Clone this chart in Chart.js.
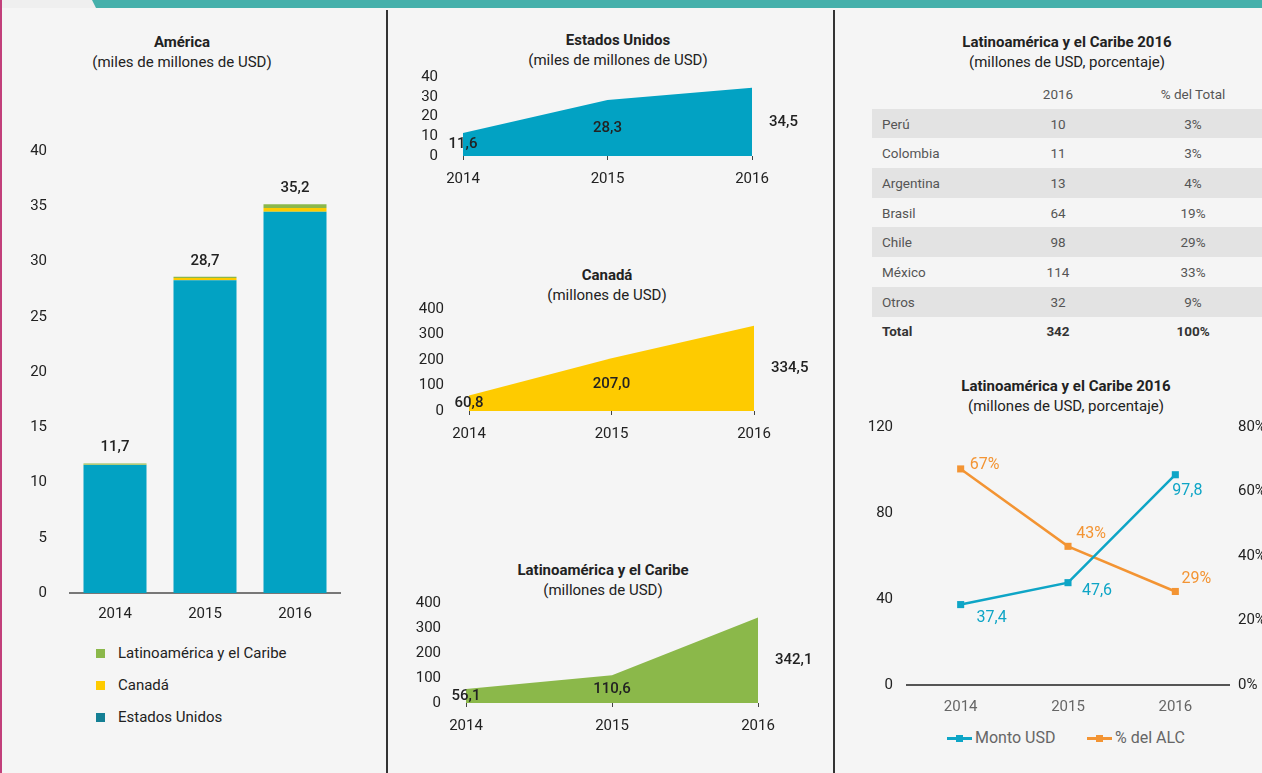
<!DOCTYPE html>
<html>
<head>
<meta charset="utf-8">
<script src="https://cdn.jsdelivr.net/npm/chart.js@4.4.1/dist/chart.umd.min.js"></script>
<style>
    body { margin: 0; width: 1262px; height: 773px; overflow: hidden; background: #f5f5f5; font-family: Roboto, 'Noto Sans', sans-serif; color: #222; position: relative; }
    .abs { position: absolute; }
    .title { position: absolute; width: 320px; text-align: center; font-size: 15px; line-height: 20px; color: #222; }
    .title b { font-weight: 700; }
    .legend-v div { position: absolute; left: 0; font-size: 15px; line-height: 18px; color: #222; white-space: nowrap; }
    .legend-v span { position: absolute; left: 0; top: 5px; width: 9px; height: 9px; }
    .legend-v em { font-style: normal; position: absolute; left: 22px; top: 0; }
    table { position: absolute; left: 872px; top: 79px; width: 408px; border-collapse: collapse; font-size: 13.5px; color: #555; }
    td, th { height: 29.7px; padding: 0; font-weight: 400; }
    td:first-child { padding-left: 10px; width: 128px; text-align: left; }
    td:nth-child(2), th:nth-child(2) { width: 96px; text-align: center; }
    td:nth-child(3), th:nth-child(3) { text-align: center; }
    tr.shade td { background: #e3e3e3; }
    tr.total td { font-weight: 700; color: #333; }
    .legend-h { position: absolute; top: 729px; font-size: 16px; color: #666; line-height: 18px; white-space: nowrap; }
    .legend-h i { position: absolute; left: 0; top: 8px; width: 25px; height: 3px; }
    .legend-h i::after { content: ''; position: absolute; left: 9px; top: -2px; width: 7px; height: 7px; background: inherit; }
    .legend-h em { font-style: normal; position: absolute; left: 28px; top: 0; }
</style>
</head>
<body>
<div class="abs" style="left:0;top:0;width:1262px;height:8px;background:#45b0ab"></div>
<div class="abs" style="left:0;top:0;width:96px;height:8px;background:#efefef;clip-path:polygon(0 0,92px 0,96px 100%,0 100%)"></div>
<div class="abs" style="left:0;top:0;width:2px;height:773px;background:#c2407b"></div>
<div class="abs" style="left:386px;top:10px;width:2px;height:763px;background:#333"></div>
<div class="abs" style="left:833px;top:10px;width:2px;height:763px;background:#333"></div>

<div class="title" style="left:22px;top:32px"><b>América</b><br>(miles de millones de USD)</div>
<div class="abs" style="left:0;top:130px;width:380px;height:503px"><canvas id="americaChart"></canvas></div>
<div class="legend-v abs" id="americaLegend" style="left:96px;top:0"></div>

<div class="title" style="left:458px;top:30px"><b>Estados Unidos</b><br>(miles de millones de USD)</div>
<div class="abs" style="left:390px;top:60px;width:440px;height:130px"><canvas id="usaChart"></canvas></div>

<div class="title" style="left:447px;top:265px"><b>Canadá</b><br>(millones de USD)</div>
<div class="abs" style="left:390px;top:290px;width:440px;height:155px"><canvas id="canadaChart"></canvas></div>

<div class="title" style="left:443px;top:560px"><b>Latinoamérica y el Caribe</b><br>(millones de USD)</div>
<div class="abs" style="left:390px;top:585px;width:440px;height:152px"><canvas id="lacChart"></canvas></div>

<div class="title" style="left:907px;top:32px"><b>Latinoamérica y el Caribe 2016</b><br>(millones de USD, porcentaje)</div>
<table id="lacTable"></table>

<div class="title" style="left:906px;top:376px"><b>Latinoamérica y el Caribe 2016</b><br>(millones de USD, porcentaje)</div>
<div class="abs" style="left:850px;top:410px;width:412px;height:305px"><canvas id="lacLineChart"></canvas></div>
<div class="legend-h" style="left:947px"><i style="background:#0ea5c6"></i><em>Monto USD</em></div>
<div class="legend-h" style="left:1087px"><i style="background:#f39433"></i><em>% del ALC</em></div>

<script>
// datos
const years = ['2014', '2015', '2016'];
const usaValues = [11.6, 28.3, 34.5];        // miles de millones USD
const canadaValues = [60.8, 207.0, 334.5];   // millones USD
const lacValues = [56.1, 110.6, 342.1];      // millones USD
const americaTotals = [11.7, 28.7, 35.2];    // miles de millones USD

const lacCountries = ['Perú', 'Colombia', 'Argentina', 'Brasil', 'Chile', 'México', 'Otros'];
const lacCountryValues = [10, 11, 13, 64, 98, 114, 32];
const lacCountryShares = ['3%', '3%', '4%', '19%', '29%', '33%', '9%'];
const lacTotal = ['Total', 342, '100%'];

const montoUsd = [37.4, 47.6, 97.8];
const pctAlc = [67, 43, 29];

const COLORS = {
    usa: '#02a2c3',
    usaLegend: '#147f94',
    canada: '#fecb00',
    lac: '#8bb84a',
    blue: '#0ea5c6',
    orange: '#f39433',
};

const fmt = v => v.toFixed(1).replace('.', ',');
const FONT = 'Roboto, "Noto Sans", sans-serif';
Chart.defaults.font.family = FONT;
Chart.defaults.color = '#222';

// leyenda vertical (América)
const legendItems = [
    ['Latinoamérica y el Caribe', COLORS.lac, 644],
    ['Canadá', COLORS.canada, 676],
    ['Estados Unidos', COLORS.usaLegend, 708],
];
document.getElementById('americaLegend').innerHTML = legendItems.map(([t, c, y]) =>
    `<div style="top:${y}px"><span style="background:${c}"></span><em>${t}</em></div>`).join('');

// tabla
let rows = '<tr><th></th><th>2016</th><th>% del Total</th></tr>';
lacCountries.forEach((c, i) => {
    rows += `<tr class="${i % 2 === 0 ? 'shade' : ''}"><td>${c}</td><td>${lacCountryValues[i]}</td><td>${lacCountryShares[i]}</td></tr>`;
});
rows += `<tr class="total"><td>${lacTotal[0]}</td><td>${lacTotal[1]}</td><td>${lacTotal[2]}</td></tr>`;
document.getElementById('lacTable').innerHTML = rows;

// barras apiladas América
const totalsPlugin = {
    id: 'totals',
    afterDatasetsDraw(chart) {
        const ctx = chart.ctx;
        const meta = chart.getDatasetMeta(chart.data.datasets.length - 1);
        ctx.save();
        ctx.font = '500 15px ' + FONT;
        ctx.fillStyle = '#222';
        ctx.textAlign = 'center';
        ctx.textBaseline = 'middle';
        meta.data.forEach((bar, i) => {
            ctx.fillText(fmt(americaTotals[i]), bar.x, bar.y - 16);
        });
        ctx.restore();
    }
};

// la separación de etiquetas del eje Y se hace con tickLength (no con ticks.padding,
// que también empuja el área del gráfico hacia abajo)
new Chart(document.getElementById('americaChart'), {
    type: 'bar',
    data: {
        labels: years,
        datasets: [
            { label: 'Estados Unidos', data: usaValues, backgroundColor: COLORS.usa },
            { label: 'Canadá', data: canadaValues.map(v => v / 1000), backgroundColor: COLORS.canada },
            { label: 'Latinoamérica y el Caribe', data: lacValues.map(v => v / 1000), backgroundColor: COLORS.lac },
        ]
    },
    options: {
        responsive: true,
        maintainAspectRatio: false,
        animation: false,
        layout: { padding: { left: 0, right: 40, top: 21, bottom: 0 }, autoPadding: false },
        datasets: { bar: { barPercentage: 0.7, categoryPercentage: 1 } },
        plugins: { legend: { display: false }, tooltip: { enabled: false } },
        scales: {
            x: {
                stacked: true,
                grid: { display: false, drawTicks: false },
                border: { display: true, color: '#777', width: 2 },
                ticks: { padding: 12, font: { size: 15 }, color: '#222' },
                afterFit(scale) { scale.height = 40; }
            },
            y: {
                stacked: true,
                min: 0, max: 40,
                grid: { display: false, drawTicks: true, tickLength: 23 },
                border: { display: false },
                ticks: { stepSize: 5, padding: 0, autoSkip: false, font: { size: 15 }, color: '#222' },
                afterFit(scale) { scale.width = 70; }
            }
        }
    },
    plugins: [totalsPlugin]
});

// gráficos de área
const areaLabelsPlugin = {
    id: 'areaLabels',
    afterDatasetsDraw(chart) {
        const ctx = chart.ctx;
        const ds = chart.data.datasets[0];
        const meta = chart.getDatasetMeta(0);
        const y = chart.scales.y;
        ctx.save();
        ctx.font = '500 15px ' + FONT;
        ctx.fillStyle = '#222';
        ctx.textBaseline = 'middle';
        meta.data.forEach((pt, i) => {
            const last = i === meta.data.length - 1;
            ctx.textAlign = last ? 'left' : 'center';
            ctx.fillText(fmt(ds.data[i]), last ? pt.x + 17 : pt.x, y.getPixelForValue(ds.data[i] / 2));
        });
        ctx.restore();
    }
};

function makeAreaChart(id, values, color, max, step, yWidth, padRight, padTop) {
    return new Chart(document.getElementById(id), {
        type: 'line',
        data: {
            labels: years,
            datasets: [{
                data: values,
                borderWidth: 0,
                borderColor: color,
                backgroundColor: color,
                fill: 'origin',
                pointRadius: 0,
                tension: 0
            }]
        },
        options: {
            responsive: true,
            maintainAspectRatio: false,
            animation: false,
            layout: { padding: { left: 0, right: padRight, top: padTop, bottom: 4 }, autoPadding: false },
            plugins: { legend: { display: false }, tooltip: { enabled: false } },
            scales: {
                x: {
                    offset: false,
                    grid: { display: true, drawOnChartArea: false, drawTicks: true, tickLength: 4, color: '#444' },
                    border: { display: false },
                    ticks: { padding: 10, font: { size: 15 }, color: '#222' },
                    afterFit(scale) { scale.height = 30; }
                },
                y: {
                    min: 0, max: max,
                    grid: { display: false, drawTicks: true, tickLength: 25 },
                    border: { display: false },
                    ticks: { stepSize: step, padding: 0, autoSkip: false, font: { size: 15 }, color: '#222' },
                    afterFit(scale) { scale.width = yWidth; }
                }
            }
        },
        plugins: [areaLabelsPlugin]
    });
}

makeAreaChart('usaChart', usaValues, COLORS.usa, 40, 10, 73, 78, 17);
makeAreaChart('canadaChart', canadaValues, COLORS.canada, 400, 100, 79, 76, 19);
makeAreaChart('lacChart', lacValues, COLORS.lac, 400, 100, 76, 72, 18);

// líneas LAC 2016
const lineLabelsPlugin = {
    id: 'lineLabels',
    afterDatasetsDraw(chart, args, opts) {
        const ctx = chart.ctx;
        ctx.save();
        ctx.font = '16px ' + FONT;
        ctx.textAlign = 'center';
        ctx.textBaseline = 'middle';
        chart.data.datasets.forEach((ds, d) => {
            const meta = chart.getDatasetMeta(d);
            ctx.fillStyle = ds.borderColor;
            meta.data.forEach((pt, i) => {
                const [dx, dy] = opts.offsets[d][i];
                const text = d === 0 ? fmt(ds.data[i]) : ds.data[i] + '%';
                ctx.fillText(text, pt.x + dx, pt.y + dy);
            });
        });
        ctx.restore();
    }
};

new Chart(document.getElementById('lacLineChart'), {
    type: 'line',
    data: {
        labels: years,
        datasets: [
            {
                label: 'Monto USD', data: montoUsd, yAxisID: 'y',
                borderColor: COLORS.blue, backgroundColor: COLORS.blue,
                borderWidth: 2.5, pointStyle: 'rect', pointRadius: 5, pointBorderWidth: 0, tension: 0
            },
            {
                label: '% del ALC', data: pctAlc, yAxisID: 'y1',
                borderColor: COLORS.orange, backgroundColor: COLORS.orange,
                borderWidth: 2.5, pointStyle: 'rect', pointRadius: 5, pointBorderWidth: 0, tension: 0
            }
        ]
    },
    options: {
        responsive: true,
        maintainAspectRatio: false,
        animation: false,
        layout: { padding: { left: 0, right: 0, top: 17, bottom: 0 }, autoPadding: false },
        plugins: {
            legend: { display: false },
            tooltip: { enabled: false },
            lineLabels: {
                offsets: [
                    [[31, 13], [29, 8], [12, 16]],
                    [[24, -4], [23, -12], [21, -12]]
                ]
            }
        },
        scales: {
            x: {
                offset: true,
                grid: { display: false, drawTicks: false },
                border: { display: true, color: '#555', width: 2 },
                ticks: { padding: 13, font: { size: 15 }, color: '#666' },
                afterFit(scale) { scale.height = 30; }
            },
            y: {
                position: 'left',
                min: 0, max: 120,
                grid: { display: false, drawTicks: true, tickLength: 14 },
                border: { display: false },
                ticks: { stepSize: 40, padding: 0, font: { size: 15 }, color: '#222' },
                afterFit(scale) { scale.width = 57; }
            },
            y1: {
                position: 'right',
                min: 0, max: 80,
                grid: { display: false, drawTicks: true, tickLength: 9 },
                border: { display: false },
                ticks: { stepSize: 20, padding: 0, font: { size: 15 }, color: '#222', callback: v => v + '%' },
                afterFit(scale) { scale.width = 33; }
            }
        }
    },
    plugins: [lineLabelsPlugin]
});
</script>
</body>
</html>
